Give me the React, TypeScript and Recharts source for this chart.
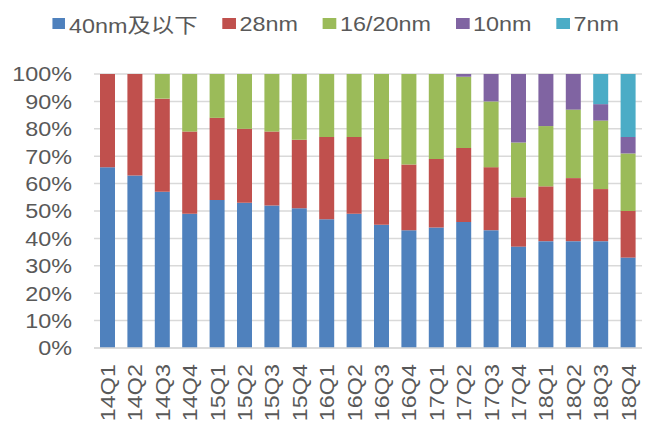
import React from 'react';
import { BarChart, Bar, XAxis, YAxis, CartesianGrid, Legend } from 'recharts';

const quarters = ['14Q1','14Q2','14Q3','14Q4','15Q1','15Q2','15Q3','15Q4','16Q1','16Q2','16Q3','16Q4','17Q1','17Q2','17Q3','17Q4','18Q1','18Q2','18Q3','18Q4'];
const n40 = [66,63,57,49,54,53,52,51,47,49,45,43,44,46,43,37,39,39,39,33];
const n28 = [34,37,34,30,30,27,27,25,30,28,24,24,25,27,23,18,20,23,19,17];
const n1620 = [0,0,9,21,16,20,21,24,23,23,31,33,31,26,24,20,22,25,25,21];
const n10 = [0,0,0,0,0,0,0,0,0,0,0,0,0,1,10,25,19,13,6,6];
const n7 = [0,0,0,0,0,0,0,0,0,0,0,0,0,0,0,0,0,0,11,23];
const yTicks = [0,10,20,30,40,50,60,70,80,90,100];

const seriesDefs = [
  { key: 'n40', name: '40nm及以下', color: '#4F81BD' },
  { key: 'n28', name: '28nm', color: '#C0504D' },
  { key: 'n1620', name: '16/20nm', color: '#9BBB59' },
  { key: 'n10', name: '10nm', color: '#8064A2' },
  { key: 'n7', name: '7nm', color: '#4BACC6' },
];

const data = quarters.map((q, i) => ({ q, n40: n40[i], n28: n28[i], n1620: n1620[i], n10: n10[i], n7: n7[i] }));

const FONT = "'Liberation Sans', Arial, 'Noto Sans CJK SC', sans-serif";
const TEXT = '#595959';
const SX = 1.14;
const FS = 20.5;

const YTick = (props: any) => {
  const { x, y, payload } = props;
  return (
    <text transform={`translate(${x},${y}) scale(${SX},1)`} textAnchor="end" dy="0.36em" fill={TEXT} fontSize={FS} fontFamily={FONT}>
      {`${payload.value}%`}
    </text>
  );
};

const XTick = (props: any) => {
  const { x, y, payload } = props;
  return (
    <text transform={`translate(${x},${y}) rotate(-90) scale(${SX},1)`} textAnchor="end" dy="0.36em" fill={TEXT} fontSize={FS} fontFamily={FONT}>
      {payload.value}
    </text>
  );
};

const LegendContent = () => (
  <div style={{ height: 47, width: 651, position: 'relative' }}>
    <div style={{ position: 'absolute', left: 0, top: 0, height: 47, display: 'flex', alignItems: 'center', paddingLeft: 45.6, transform: `scaleX(${SX})`, transformOrigin: '0 0', fontFamily: FONT, fontSize: FS, color: TEXT, whiteSpace: 'nowrap' }}>
      {seriesDefs.map((s) => (
        <span key={s.key} style={{ display: 'flex', alignItems: 'center', marginRight: 22 }}>
          <span style={{ display: 'inline-block', width: 11.4, height: 11.7, background: s.color, marginRight: 3.5 }} />
          <span>{s.name}</span>
        </span>
      ))}
    </div>
  </div>
);

export default function App() {
  return (
    <div style={{ position: 'absolute', left: 0, top: 0, width: 651, height: 421, background: '#fff' }}>
      <BarChart width={651} height={421} data={data} margin={{ top: 27, right: 9, left: 0, bottom: 0 }}>
        <Legend verticalAlign="top" content={<LegendContent />} wrapperStyle={{ top: 0, left: 0, width: 651 }} />
        <CartesianGrid vertical={false} stroke="#d9d9d9" strokeWidth={1.5} />
        <XAxis dataKey="q" interval={0} height={73} tickSize={0} tickMargin={16} tick={<XTick />} axisLine={{ stroke: '#d9d9d9', strokeWidth: 1.5 }} tickLine={false} />
        <YAxis domain={[0, 100]} ticks={yTicks} width={94} tickSize={0} tickMargin={22} tick={<YTick />} axisLine={false} tickLine={false} />
        {seriesDefs.map((s) => (
          <Bar key={s.key} dataKey={s.key} name={s.name} stackId="a" fill={s.color} barSize={15} isAnimationActive={false} />
        ))}
      </BarChart>
    </div>
  );
}
